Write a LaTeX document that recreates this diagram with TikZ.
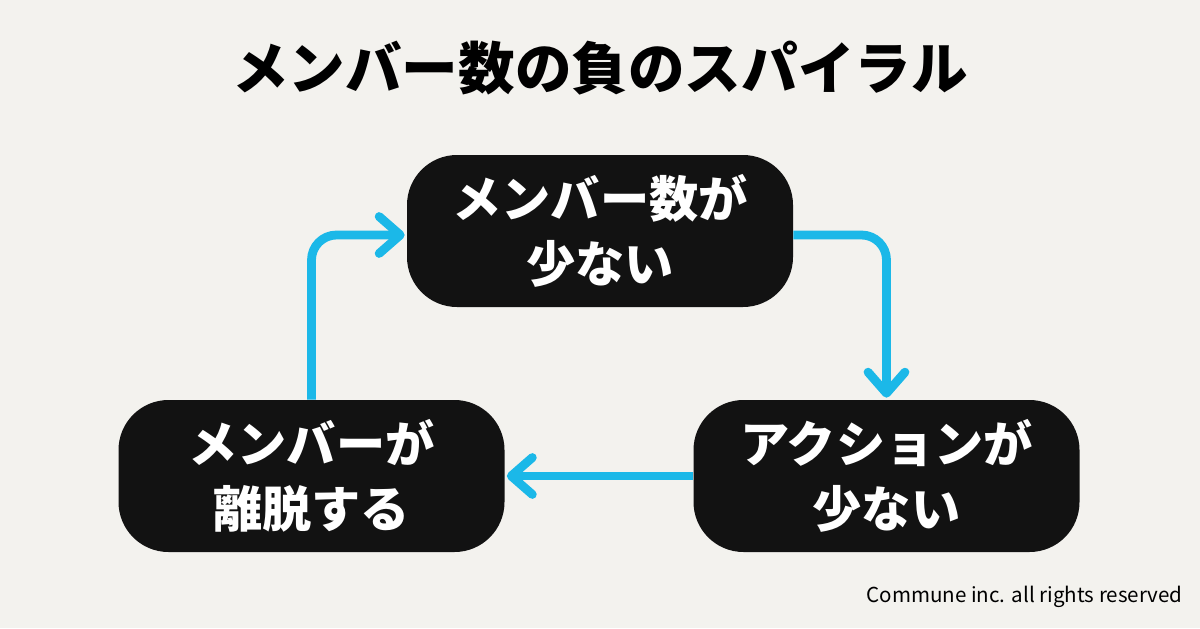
\documentclass[tikz,border=0pt]{standalone}
\usepackage{fontspec}
\setmainfont{Noto Sans CJK JP}
\usepackage{xcolor}
\usepackage{tikz}
\usetikzlibrary{arrows.meta, positioning}

\definecolor{paper}{HTML}{F3F2EE}
\definecolor{boxfill}{HTML}{121212}
\definecolor{flowblue}{HTML}{1BB8E8}

\begin{document}
\begin{tikzpicture}[>={Straight Barb[round, length=12pt, width=21pt]}, 
    stepbox/.style={draw=none, fill=boxfill, rounded corners=1cm, minimum width=7.72cm, minimum height=3.04cm, align=center, text=white, font=\bfseries\fontsize{28}{37}\selectfont},
    flow/.style={->, draw=flowblue, line width=5pt, rounded corners=0.5cm}]

    % Background
    \fill[paper] (0,0) rectangle (24,-12.56);
    \useasboundingbox (0,0) rectangle (24,-12.56);

    % Nodes
    \node (title) at (12,-1.36) {\bfseries\fontsize{32.2}{38}\selectfont メンバー数の負のスパイラル};
    \node (few) [stepbox] at (12,-4.62) {メンバー数が\\少ない};
    \node (leave) [stepbox] at (6.23,-9.52) {メンバーが\\離脱する};
    \node (noact) [stepbox] at (17.73,-9.52) {アクションが\\少ない};
    \node (credit) [anchor=east, inner sep=0pt] at (23.66,-11.94) {\fontsize{11.7}{14}\selectfont Commune inc. all rights reserved};

    % Links
    \draw[flow] ([yshift=-0.08cm]few.east) -| ([yshift=0.04cm]noact.north);
    \draw[flow] (noact.west) -- ([xshift=0.04cm]leave.east);
    \draw[flow] (leave.north) |- ([yshift=-0.08cm,xshift=-0.04cm]few.west);
\end{tikzpicture}
\end{document}
